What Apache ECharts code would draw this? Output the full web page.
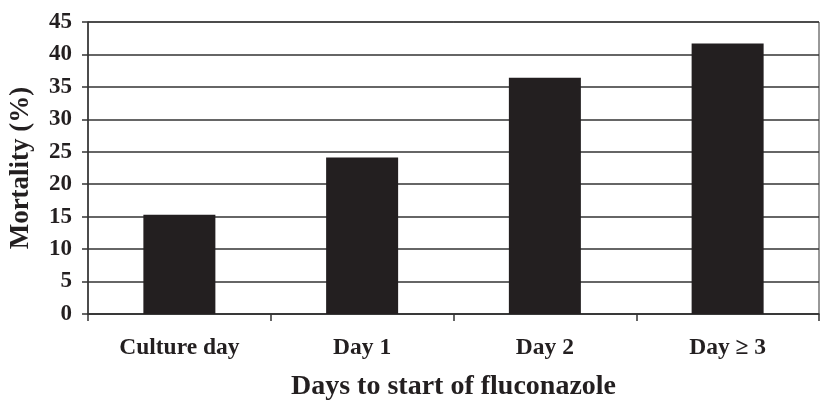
<!DOCTYPE html>
<html>
<head>
<meta charset="utf-8">
<script src="https://cdn.jsdelivr.net/npm/echarts@6/dist/echarts.min.js"></script>
<style>
  html, body { margin: 0; padding: 0; background: #fff; }
  #chart { width: 825px; height: 406px; }
</style>
</head>
<body>
<div id="chart"></div>
<script>
var categories = ["Culture day", "Day 1", "Day 2", "Day \u2265 3"];
var mortality = [15.3, 24.1, 36.4, 41.7];

var font = "Liberation Serif, Times New Roman, serif";
var mychart = echarts.init(document.getElementById("chart"));
var option = {
  animation: false,
  grid: {
    left: 88,
    right: 6,
    top: 22,
    bottom: 85,
    show: true,
    borderColor: "#333",
    borderWidth: 1,
  },
  xAxis: {
    type: "category",
    data: categories,
    name: "Days to start of fluconazole",
    nameLocation: "middle",
    nameGap: 59,
    nameTextStyle: { fontFamily: font, fontWeight: "bold", fontSize: 28, color: "#231f20" },
    axisLine: { lineStyle: { color: "#333", width: 1.5 } },
    axisTick: { show: true, length: 7, lineStyle: { color: "#333", width: 1.5 } },
    axisLabel: { fontFamily: font, fontWeight: "bold", fontSize: 23.5, color: "#231f20", margin: 22 },
  },
  yAxis: {
    type: "value",
    min: 0,
    max: 45,
    interval: 5,
    name: "Mortality (%)",
    nameLocation: "middle",
    nameGap: 53,
    nameTextStyle: { fontFamily: font, fontWeight: "bold", fontSize: 27, color: "#231f20" },
    axisLine: { show: true, lineStyle: { color: "#333", width: 1.5 } },
    axisTick: { show: true, length: 6, lineStyle: { color: "#333", width: 1.5 } },
    axisLabel: { fontFamily: font, fontWeight: "bold", fontSize: 23, color: "#231f20", margin: 16 },
    splitLine: { show: true, lineStyle: { color: "#333", width: 1.5 } },
  },
  series: [
    {
      type: "bar",
      data: mortality,
      barWidth: "39.4%",
      itemStyle: { color: "#231f20" },
    },
  ],
};
mychart.setOption(option, true);
</script>
</body>
</html>
